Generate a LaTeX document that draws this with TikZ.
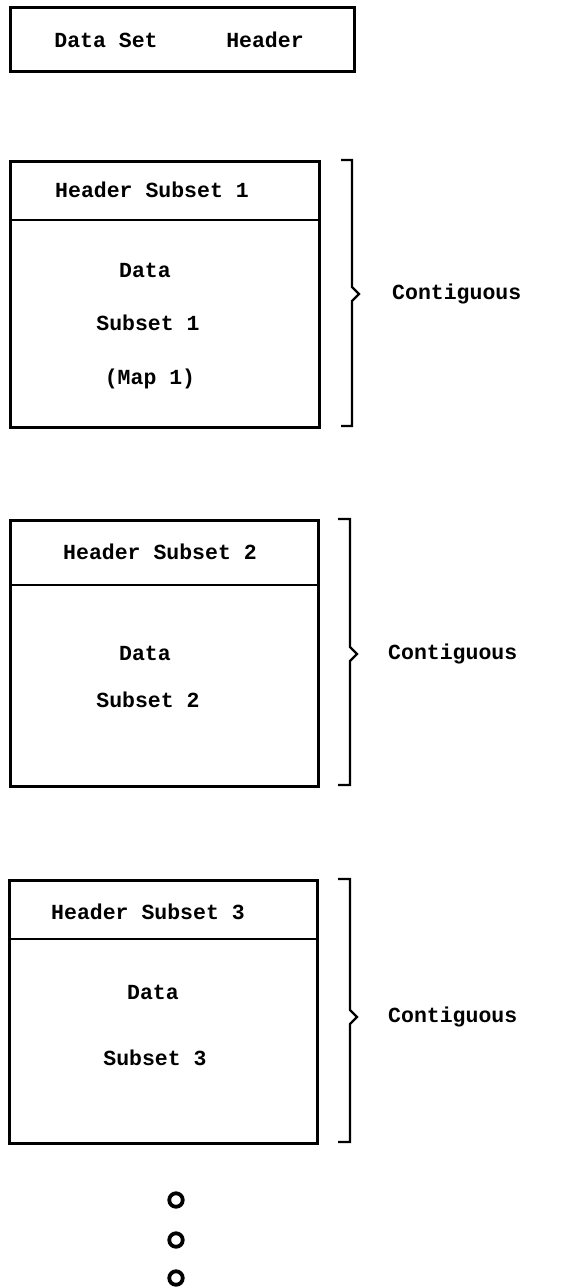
\documentclass[tikz,border=0pt]{standalone}
\usepackage{fontspec}
\setmonofont{Liberation Mono}
\begin{document}
\begin{tikzpicture}[x=1pt,y=-1pt,
  frame/.style={draw, line width=2.8pt, inner sep=0pt, anchor=north west},
  lbl/.style={font=\ttfamily\bfseries\fontsize{21.5}{25}\selectfont, inner sep=0pt},
  brace/.style={draw, line width=2.4pt, line join=miter},
  dotmark/.style={circle, draw, line width=3.8pt, minimum size=13.5pt, inner sep=0pt}]
\useasboundingbox (0,0) rectangle (582,1287);

% data set header
\node[frame, minimum width=344pt, minimum height=64pt] (dsh) at (9,6) {};
\node[lbl] (dshA) at (106,40) {Data Set};
\node[lbl] (dshB) at (265,40) {Header};

% subset 1
\node[frame, minimum width=309pt, minimum height=266pt] (s1) at (9,160) {};
\coordinate (s1l) at (9,220); \coordinate (s1r) at (318,220);
\draw[line width=2.8pt] (s1l) -- (s1r);
\node[lbl] (h1) at (152,190) {Header Subset 1};
\node[lbl] (d1a) at (145,270) {Data};
\node[lbl] (d1b) at (148,323) {Subset 1};
\node[lbl] (d1c) at (150,379) {(Map 1)};
\coordinate (b1t) at (341,160); \coordinate (b1b) at (341,426);
\draw[brace] (b1t) -- (352,160) -- (352,287) -- (359,294) -- (352,301) -- (352,426) -- (b1b);
\node[lbl, anchor=west] (c1) at (392,294) {Contiguous};

% subset 2
\node[frame, minimum width=308pt, minimum height=266pt] (s2) at (9,519) {};
\coordinate (s2l) at (9,585); \coordinate (s2r) at (317,585);
\draw[line width=2.8pt] (s2l) -- (s2r);
\node[lbl] (h2) at (160,552) {Header Subset 2};
\node[lbl] (d2a) at (145,653) {Data};
\node[lbl] (d2b) at (148,700) {Subset 2};
\coordinate (b2t) at (338,519); \coordinate (b2b) at (338,785);
\draw[brace] (b2t) -- (350,519) -- (350,647) -- (357,654) -- (350,661) -- (350,785) -- (b2b);
\node[lbl, anchor=west] (c2) at (388,654) {Contiguous};

% subset 3
\node[frame, minimum width=308pt, minimum height=263pt] (s3) at (8,879) {};
\coordinate (s3l) at (8,939); \coordinate (s3r) at (316,939);
\draw[line width=2.8pt] (s3l) -- (s3r);
\node[lbl] (h3) at (148,912) {Header Subset 3};
\node[lbl] (d3a) at (153,992) {Data};
\node[lbl] (d3b) at (155,1058) {Subset 3};
\coordinate (b3t) at (338,879); \coordinate (b3b) at (338,1142);
\draw[brace] (b3t) -- (350,879) -- (350,1010) -- (357,1017) -- (350,1024) -- (350,1142) -- (b3b);
\node[lbl, anchor=west] (c3) at (388,1017) {Contiguous};

% continuation marks
\node[dotmark] (e1) at (176,1200) {};
\node[dotmark] (e2) at (176,1240) {};
\node[dotmark] (e3) at (176,1278) {};
\end{tikzpicture}
\end{document}
